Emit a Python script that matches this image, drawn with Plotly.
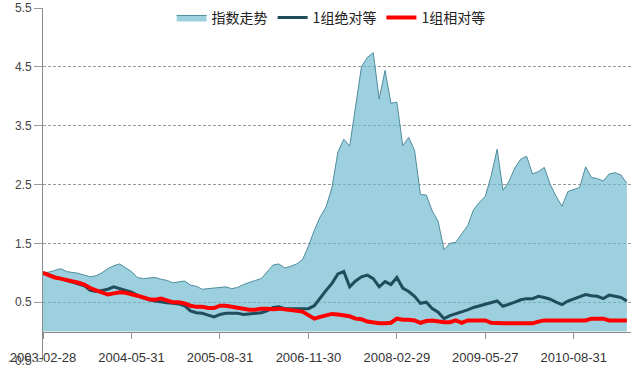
import pandas as pd
import plotly.graph_objects as go

# ---- data ----
TICK_LABELS = ["2003-02-28", "2004-05-31", "2005-08-31", "2006-11-30",
               "2008-02-29", "2009-05-27", "2010-08-31"]

DATES = list(pd.date_range("2003-02-28", periods=100, freq="ME").strftime("%Y-%m-%d"))
DATES = ["2009-05-27" if d == "2009-05-31" else d for d in DATES]

INDEX_TREND = [
    1.00, 1.01, 1.04, 1.07, 1.02, 1.01, 0.99, 0.96, 0.93, 0.95,
    1.00, 1.07, 1.12, 1.15, 1.08, 1.02, 0.92, 0.90, 0.91, 0.92,
    0.89, 0.87, 0.83, 0.85, 0.86, 0.79, 0.77, 0.72, 0.73, 0.73,
    0.75, 0.76, 0.73, 0.75, 0.80, 0.84, 0.87, 0.90, 1.02, 1.13,
    1.15, 1.08, 1.11, 1.15, 1.22, 1.45, 1.72, 1.95, 2.12, 2.45,
    3.05, 3.27, 3.15, 3.85, 4.50, 4.66, 4.74, 3.95, 4.44, 3.88,
    3.90, 3.16, 3.30, 3.08, 2.33, 2.32, 2.05, 1.87, 1.39, 1.50,
    1.52, 1.66, 1.80, 2.07, 2.20, 2.30, 2.65, 3.10, 2.40, 2.55,
    2.78, 2.93, 2.98, 2.68, 2.72, 2.79, 2.50, 2.30, 2.13, 2.38,
    2.41, 2.45, 2.80, 2.62, 2.60, 2.56, 2.68, 2.70, 2.66, 2.52,
]

GROUP1_ABS = [
    1.00, 0.96, 0.93, 0.90, 0.87, 0.84, 0.82, 0.78, 0.70, 0.68,
    0.70, 0.72, 0.76, 0.73, 0.70, 0.67, 0.62, 0.58, 0.54, 0.52,
    0.50, 0.49, 0.48, 0.47, 0.44, 0.35, 0.32, 0.31, 0.28, 0.25,
    0.29, 0.31, 0.31, 0.31, 0.29, 0.30, 0.31, 0.32, 0.35, 0.41,
    0.42, 0.39, 0.39, 0.39, 0.39, 0.39, 0.44, 0.58, 0.70, 0.82,
    0.98, 1.02, 0.76, 0.86, 0.93, 0.96, 0.90, 0.76, 0.85, 0.80,
    0.92, 0.74, 0.68, 0.60, 0.48, 0.50, 0.39, 0.33, 0.22, 0.27,
    0.30, 0.33, 0.37, 0.41, 0.44, 0.47, 0.49, 0.52, 0.43, 0.46,
    0.50, 0.54, 0.56, 0.56, 0.60, 0.58, 0.55, 0.50, 0.46, 0.52,
    0.56, 0.59, 0.63, 0.61, 0.60, 0.56, 0.62, 0.60, 0.58, 0.52,
]

GROUP1_REL = [
    1.00, 0.96, 0.92, 0.90, 0.88, 0.85, 0.83, 0.80, 0.74, 0.70,
    0.67, 0.63, 0.65, 0.67, 0.66, 0.64, 0.61, 0.58, 0.55, 0.54,
    0.56, 0.53, 0.50, 0.50, 0.48, 0.44, 0.42, 0.42, 0.40, 0.40,
    0.44, 0.44, 0.42, 0.41, 0.39, 0.37, 0.37, 0.39, 0.39, 0.38,
    0.39, 0.38, 0.37, 0.36, 0.34, 0.28, 0.22, 0.25, 0.28, 0.30,
    0.29, 0.28, 0.26, 0.22, 0.21, 0.17, 0.15, 0.14, 0.14, 0.15,
    0.22, 0.20, 0.20, 0.19, 0.15, 0.18, 0.19, 0.17, 0.16, 0.16,
    0.19, 0.15, 0.19, 0.19, 0.19, 0.19, 0.15, 0.14, 0.14, 0.14,
    0.14, 0.14, 0.14, 0.14, 0.17, 0.19, 0.19, 0.19, 0.19, 0.19,
    0.19, 0.19, 0.19, 0.22, 0.22, 0.22, 0.19, 0.19, 0.19, 0.19,
]

SERIES_NAMES = ["指数走势", "1组绝对等", "1组相对等"]
Y_TICKS = [-0.5, 0.5, 1.5, 2.5, 3.5, 4.5, 5.5]

# ---- figure ----
fig = go.Figure()
fig.add_trace(go.Scatter(
    x=DATES, y=INDEX_TREND, name=SERIES_NAMES[0], mode="lines",
    fill="tozeroy", fillcolor="rgba(110,185,208,0.68)",
    line=dict(color="#4f8c9d", width=1),
))
fig.add_trace(go.Scatter(
    x=DATES, y=GROUP1_ABS, name=SERIES_NAMES[1], mode="lines",
    line=dict(color="#1f4d5c", width=3),
))
fig.add_trace(go.Scatter(
    x=DATES, y=GROUP1_REL, name=SERIES_NAMES[2], mode="lines",
    line=dict(color="#ff0000", width=4),
))

fig.update_layout(
    width=639, height=369,
    margin=dict(l=43, r=8, t=8, b=8, autoexpand=False),
    paper_bgcolor="white", plot_bgcolor="white",
    font=dict(family="Liberation Sans, Noto Sans CJK SC", size=12, color="#333"),
    showlegend=True,
    legend=dict(
        orientation="h", x=0.49, xanchor="center", y=0.972, yanchor="middle",
        bgcolor="rgba(0,0,0,0)",
        font=dict(family="Noto Sans CJK SC", size=14, color="#222"),
        itemwidth=30,
    ),
    xaxis=dict(
        type="category", range=[0, 99.7], automargin=False,
        tickmode="array", tickvals=TICK_LABELS, ticktext=TICK_LABELS,
        anchor="free", position=0.5 / 6,
        showline=True, linecolor="#8a8a8a", linewidth=1,
        ticks="outside", ticklen=6, tickcolor="#8a8a8a",
        showgrid=False, zeroline=False,
        tickangle=0, ticklabelstandoff=8,
        tickfont=dict(size=13, color="#333"),
    ),
    yaxis=dict(
        range=[-0.5, 5.5], tickmode="array", tickvals=Y_TICKS, automargin=False,
        showline=True, linecolor="#8a8a8a", linewidth=1,
        ticks="outside", ticklen=8, tickcolor="#9a9a9a",
        showgrid=True, gridcolor="#9a9a9a", gridwidth=1, griddash="3px,2px",
        zeroline=False,
        tickfont=dict(size=12, color="#444"),
    ),
)

fig.write_html(
    "out.html",
    config={"displayModeBar": False},
    post_script="document.body.style.margin='0';document.body.style.overflow='hidden';",
)
